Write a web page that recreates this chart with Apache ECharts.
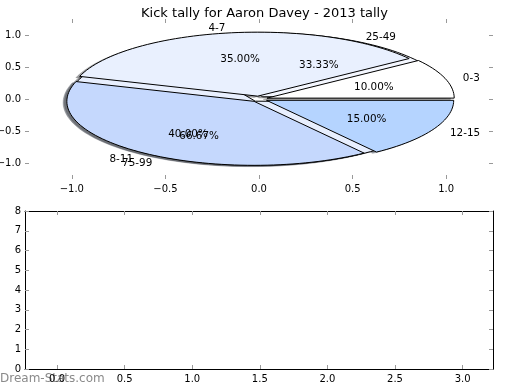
<!DOCTYPE html>
<html><head><meta charset="utf-8">
<script src="https://cdn.jsdelivr.net/npm/echarts@6/dist/echarts.min.js"></script>
<style>html,body{margin:0;padding:0;background:#fff}#c{width:520px;height:390px}</style>
</head><body><div id="c"></div>
<script>
// ---- data ----
const titleText = 'Kick tally for Aaron Davey - 2013 tally';
const pie1Labels = ['0-3', '4-7', '8-11', '12-15'];
const pie1Counts = [2, 7, 8, 3];
const pie2Labels = ['25-49', '75-99'];
const pie2Counts = [1, 2];
const pieXTicks = [-1.0, -0.5, 0.0, 0.5, 1.0];
const pieYTicks = [-1.0, -0.5, 0.0, 0.5, 1.0];
const lowerXTicks = [0.0, 0.5, 1.0, 1.5, 2.0, 2.5, 3.0];
const lowerYTicks = [0, 1, 2, 3, 4, 5, 6, 7, 8];
const watermark = 'Dream-Stats.com';

// ---- style ----
const pie1Colors = ['#ffffff', '#e9f0fe', '#c5d8fd', '#b5d4ff'];
const pie2Colors = ['#f4f7ff', '#e8effe'];
const EXPLODE1 = 0.045;
const EXPLODE2 = 0.04;
const TEXT_DY = 1.5;
const FONT = '"DejaVu Sans", sans-serif';

function fmt(v) { return (v < 0 ? '\u2212' : '') + Math.abs(v).toFixed(1); }

function slices(counts) {
  const total = counts.reduce((a, b) => a + b, 0);
  let acc = 0;
  return counts.map(c => {
    const t1 = acc / total * 360; acc += c; const t2 = acc / total * 360;
    return { t1, t2, frac: c / total };
  });
}

function wedgeSeries(counts, colors, explode, mode) {
  const sl = slices(counts);
  return {
    type: 'custom', xAxisIndex: 0, yAxisIndex: 0, silent: true,
    data: counts.map((c, i) => [i, c]),
    renderItem: function (params, api) {
      const i = params.dataIndex;
      const s = sl[i];
      const tm = (s.t1 + s.t2) / 2 * Math.PI / 180;
      let cx = explode * Math.cos(tm), cy = explode * Math.sin(tm);
      if (mode === 'shadow') { cx -= 0.02; cy -= 0.02; }
      const pts = [api.coord([cx, cy])];
      const N = Math.max(8, Math.ceil((s.t2 - s.t1) / 2));
      for (let k = 0; k <= N; k++) {
        const a = (s.t1 + (s.t2 - s.t1) * k / N) * Math.PI / 180;
        pts.push(api.coord([cx + Math.cos(a), cy + Math.sin(a)]));
      }
      const col = colors[i];
      if (mode === 'shadow') {
        const r = parseInt(col.slice(1, 3), 16), g = parseInt(col.slice(3, 5), 16), b = parseInt(col.slice(5, 7), 16);
        const dark = 'rgb(' + Math.round(r * 0.3) + ',' + Math.round(g * 0.3) + ',' + Math.round(b * 0.3) + ')';
        return { type: 'polygon', shape: { points: pts }, style: { fill: dark, stroke: dark, lineWidth: 0.5, opacity: 0.5 } };
      }
      return { type: 'polygon', shape: { points: pts }, style: { fill: col, stroke: '#000', lineWidth: 1 } };
    }
  };
}

function textSeries(counts, labels, explode) {
  const sl = slices(counts);
  return {
    type: 'custom', xAxisIndex: 0, yAxisIndex: 0, silent: true,
    data: counts.map((c, i) => [i, c]),
    renderItem: function (params, api) {
      const i = params.dataIndex;
      const s = sl[i];
      const tm = (s.t1 + s.t2) / 2 * Math.PI / 180;
      const cx = explode * Math.cos(tm), cy = explode * Math.sin(tm);
      const lp = api.coord([cx + 1.1 * Math.cos(tm), cy + 1.1 * Math.sin(tm)]);
      const pp = api.coord([cx + 0.6 * Math.cos(tm), cy + 0.6 * Math.sin(tm)]);
      const xt = cx + 1.1 * Math.cos(tm);
      return {
        type: 'group', children: [
          { type: 'text', x: lp[0], y: lp[1] + TEXT_DY, style: { text: labels[i], fill: '#000', font: '10.4px ' + FONT, align: xt > 0 ? 'left' : 'right', verticalAlign: 'middle' } },
          { type: 'text', x: pp[0], y: pp[1] + TEXT_DY, style: { text: (s.frac * 100).toFixed(2) + '%', fill: '#000', font: '10.4px ' + FONT, align: 'center', verticalAlign: 'middle' } }
        ]
      };
    }
  };
}

const tickStyle = { show: true, inside: true, length: 4, lineStyle: { color: '#999', width: 1 } };
const labelStyle = { color: '#000', fontSize: 10, fontFamily: FONT };

function ax(grid, pos, min, max, ticks, showLabel, line, fmtFn) {
  const vertical = (pos === 'left' || pos === 'right');
  const a = {
    type: 'value', gridIndex: grid, position: pos, min: min, max: max,
    axisLine: { show: line, onZero: false, lineStyle: { color: '#000', width: 1 } },
    axisTick: Object.assign({}, tickStyle),
    axisLabel: Object.assign({ show: showLabel, margin: vertical ? 4 : 5, formatter: fmtFn, showMinLabel: true, showMaxLabel: true, padding: vertical ? [2, 0, 0, 0] : 0 }, labelStyle),
    splitLine: { show: false }
  };
  if (ticks) { a.axisTick.customValues = ticks; a.axisLabel.customValues = ticks; }
  else { a.interval = 1; }
  return a;
}

const chart = echarts.init(document.getElementById('c'), null, { renderer: 'canvas' });
chart.setOption({
  animation: false,
  backgroundColor: '#fff',
  title: {
    text: titleText, left: 259.5, top: 2, textAlign: 'center',
    textStyle: { fontFamily: FONT, fontSize: 13, fontWeight: 'normal', color: '#000' }
  },
  grid: [
    { left: 25, right: 27, top: 19, height: 160, outerBoundsMode: 'none', containLabel: false },
    { left: 25, right: 27, top: 211, height: 158, outerBoundsMode: 'none', containLabel: false }
  ],
  xAxis: [
    ax(0, 'bottom', -1.25, 1.25, pieXTicks, true, false, fmt),
    ax(0, 'top', -1.25, 1.25, pieXTicks, false, false, fmt),
    ax(1, 'bottom', -0.237, 3.225, lowerXTicks, true, true, fmt),
    ax(1, 'top', -0.237, 3.225, lowerXTicks, false, true, fmt)
  ],
  yAxis: [
    ax(0, 'left', -1.25, 1.25, pieYTicks, true, false, fmt),
    ax(0, 'right', -1.25, 1.25, pieYTicks, false, false, fmt),
    ax(1, 'left', lowerYTicks[0], lowerYTicks[lowerYTicks.length - 1], null, true, true, v => String(v)),
    ax(1, 'right', lowerYTicks[0], lowerYTicks[lowerYTicks.length - 1], null, false, true, v => String(v))
  ],
  graphic: [
    { type: 'text', left: 0, top: 373, style: { text: watermark, fill: '#8a8a8a', font: '12px ' + FONT } }
  ],
  series: [
    wedgeSeries(pie2Counts, pie2Colors, EXPLODE2, 'shadow'),
    wedgeSeries(pie1Counts, pie1Colors, EXPLODE1, 'shadow'),
    wedgeSeries(pie2Counts, pie2Colors, EXPLODE2, 'wedge'),
    wedgeSeries(pie1Counts, pie1Colors, EXPLODE1, 'wedge'),
    textSeries(pie2Counts, pie2Labels, EXPLODE2),
    textSeries(pie1Counts, pie1Labels, EXPLODE1),
    { type: 'scatter', xAxisIndex: 2, yAxisIndex: 2, data: [] }
  ]
});
</script></body></html>
